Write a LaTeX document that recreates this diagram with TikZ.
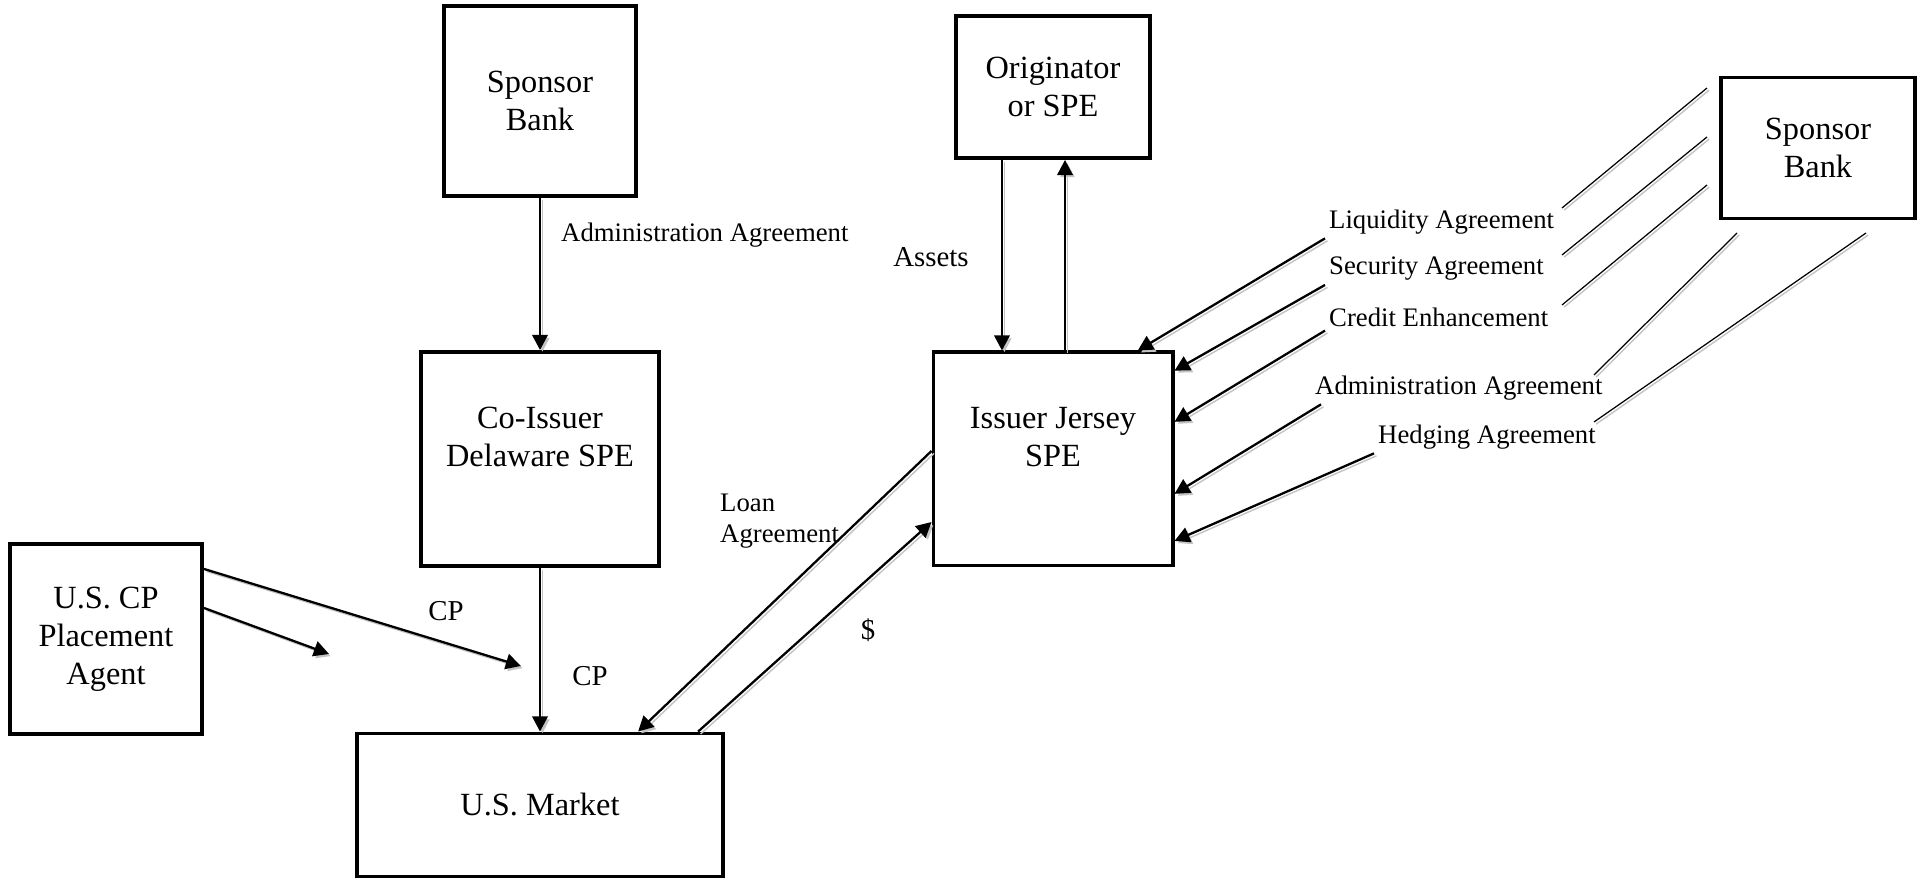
\documentclass[tikz,border=0pt]{standalone}
\usepackage{fontspec}
\setmainfont{Liberation Serif}
\usetikzlibrary{arrows.meta}

\definecolor{shadowGray}{RGB}{195,195,195}

\begin{document}
\begin{tikzpicture}[x=0.01cm, y=0.01cm]
    \tikzset{box/.style={draw, line width=1.1pt, align=center, inner sep=0pt, font=\fontsize{9.2}{10.8}\selectfont},
        lbl/.style={inner sep=1pt, font=\fontsize{7.6}{9}\selectfont},
        mlbl/.style={inner sep=1pt, font=\fontsize{8.2}{9.4}\selectfont},
        arr/.style={-{Triangle[length=4.3pt, width=4.4pt]}, line width=0.65pt,
            preaction={draw=shadowGray, transform canvas={shift={(0.7pt,-0.7pt)}}}},
        hair/.style={line width=0.35pt,
            preaction={draw=shadowGray, transform canvas={shift={(0.6pt,-0.6pt)}}}}}

    \useasboundingbox (0,0) rectangle (1921,879);

    % boxes
    \node[box, minimum width=1.92cm, minimum height=1.90cm] (sponsorA) at (540,778) {Sponsor\\Bank};
    \node[box, minimum width=2.38cm, minimum height=2.14cm] (coissuer) at (540,420) {Co-Issuer\\Delaware SPE\\[2pt]\mbox{}};
    \node[box, minimum width=1.92cm, minimum height=1.90cm] (agent) at (106,240) {U.S. CP\\Placement\\Agent};
    \node[box, minimum width=3.66cm, minimum height=1.43cm] (market) at (540,74) {U.S. Market};
    \node[box, minimum width=1.94cm, minimum height=1.42cm] (originator) at (1053,792) {Originator\\or SPE};
    \node[box, minimum width=2.39cm, minimum height=2.13cm] (issuer) at (1053,420) {Issuer Jersey\\SPE\\[2pt]\mbox{}};
    \node[box, minimum width=1.94cm, minimum height=1.41cm] (sponsorB) at (1818,731) {Sponsor\\Bank};

    % left side
    \draw[arr] (sponsorA) -- (coissuer);
    \node[lbl, anchor=west] (adminA) at (557,644) {Administration Agreement};
    \draw[arr] (coissuer) -- (market);
    \node[mlbl] (cpB) at (590,203) {CP};

    \coordinate (cpTip) at (521,213);
    \coordinate (cpStub) at (329,225);
    \draw[arr] ([yshift=0.70cm]agent.east) -- (cpTip);
    \draw[arr] ([yshift=0.31cm]agent.east) -- (cpStub);
    \node[mlbl] (cpA) at (446,268) {CP};

    % loan and cash
    \draw[arr] ([yshift=0.08cm]issuer.west) -- ([xshift=2.83cm]market.north west);
    \draw[arr] ([xshift=3.43cm]market.north west) -- ([yshift=-0.63cm]issuer.west);
    \node[lbl, anchor=west, align=left] (loan) at (716,358) {Loan\\Agreement};
    \node[mlbl] (dollar) at (868,249) {\$};

    % originator
    \draw[arr] ([xshift=-0.51cm]originator.south) -- ([xshift=-0.51cm]originator.south |- issuer.north);
    \draw[arr] ([xshift=0.12cm]issuer.north) -- ([xshift=0.12cm]issuer.north |- originator.south);
    \node[mlbl] (assets) at (931,622) {Assets};

    % sponsor bank agreements
    \node[lbl, anchor=west] (liquidity) at (1325,657) {Liquidity Agreement};
    \node[lbl, anchor=west] (security) at (1325,610) {Security Agreement};
    \node[lbl, anchor=west] (credit) at (1325,562) {Credit Enhancement};
    \node[lbl, anchor=west] (adminB) at (1311,491) {Administration Agreement};
    \node[lbl, anchor=west] (hedging) at (1374,442) {Hedging Agreement};

    \draw[arr] (liquidity.south west) -- (issuer.52);
    \draw[arr] (security.south west) -- (issuer.36);
    \draw[arr] (credit.south west) -- (issuer.17);
    \draw[arr] ([xshift=0.1cm]adminB.south west) -- (issuer.-16);
    \draw[arr] (hedging.south west) -- (issuer.-34);

    \coordinate (liqA) at (1562,671);  \coordinate (liqB) at (1707,791);
    \coordinate (secA) at (1562,624);  \coordinate (secB) at (1707,742);
    \coordinate (crdA) at (1562,574);  \coordinate (crdB) at (1707,694);
    \coordinate (admA) at (1594,504);  \coordinate (admB) at (1737,646);
    \coordinate (hdgA) at (1594,457);  \coordinate (hdgB) at (1866,646);
    \draw[hair] (liqA) -- (liqB);
    \draw[hair] (secA) -- (secB);
    \draw[hair] (crdA) -- (crdB);
    \draw[hair] (admA) -- (admB);
    \draw[hair] (hdgA) -- (hdgB);
\end{tikzpicture}
\end{document}
